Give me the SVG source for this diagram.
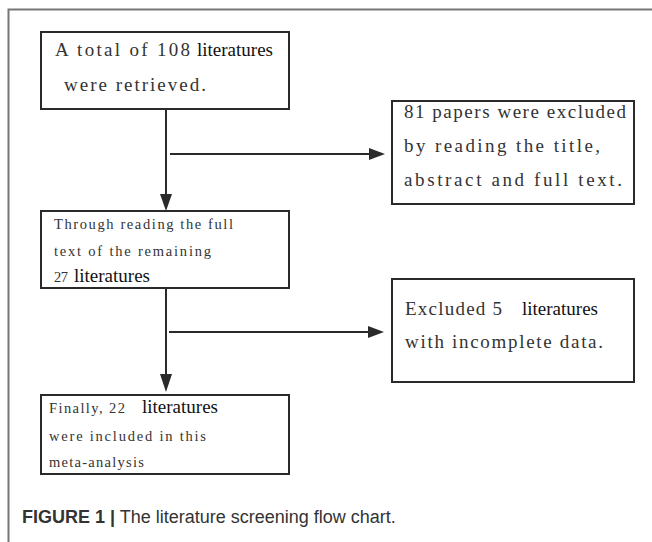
<svg xmlns="http://www.w3.org/2000/svg" width="652" height="542" viewBox="0 0 652 542">
<defs>
<style>
.box{fill:#fff;stroke:#2a2a2a;stroke-width:2}
.m16{font-family:"Liberation Serif",serif;font-size:19px;fill:#333}
.m12{font-family:"Liberation Serif",serif;font-size:14.5px;fill:#333}
.s19{font-family:"Liberation Serif",serif;font-size:19px;fill:#111}
.ln{stroke:#2a2a2a;stroke-width:2;fill:none}
.cap{font-family:"Liberation Sans",Arial,sans-serif;font-size:18px;fill:#333}
</style>
</defs>
<rect x="0" y="0" width="652" height="542" fill="#fff"/>
<path d="M8.5,542 V9.5 H652" stroke="#777" stroke-width="2" fill="none"/>

<g id="connectors">
<path class="ln" d="M166,109 V196"/>
<path d="M160,194 L172,194 L166,211 z" fill="#2a2a2a"/>
<path class="ln" d="M170,154 H372"/>
<path d="M369,148 L385,154 L369,160 z" fill="#2a2a2a"/>
<path class="ln" d="M166,288 V376"/>
<path d="M160,374 L172,374 L166,392 z" fill="#2a2a2a"/>
<path class="ln" d="M169,332 H371"/>
<path d="M368,326 L384,332 L368,338 z" fill="#2a2a2a"/>
</g>

<g id="n1">
<rect class="box" x="41" y="32" width="248" height="77"/>
<text class="m16" x="55" y="56" textLength="135" lengthAdjust="spacing">A total of 108</text>
<text class="s19" x="197" y="56">literatures</text>
<text class="m16" x="64" y="91" textLength="142" lengthAdjust="spacing">were retrieved.</text>
</g>

<g id="n2">
<rect class="box" x="392" y="101" width="242" height="103"/>
<text class="m16" x="404" y="118" textLength="222" lengthAdjust="spacing">81 papers were excluded</text>
<text class="m16" x="404" y="152" textLength="196" lengthAdjust="spacing">by reading the title,</text>
<text class="m16" x="404" y="186" textLength="218" lengthAdjust="spacing">abstract and full text.</text>
</g>

<g id="n3">
<rect class="box" x="41" y="211" width="248" height="77"/>
<text class="m12" x="54" y="229" textLength="179" lengthAdjust="spacing">Through reading the full</text>
<text class="m12" x="54" y="256" textLength="157" lengthAdjust="spacing">text of the remaining</text>
<text class="m12" x="54" y="282" textLength="14" lengthAdjust="spacing">27</text>
<text class="s19" x="74" y="282">literatures</text>
</g>

<g id="n4">
<rect class="box" x="392" y="279" width="242" height="103"/>
<text class="m16" x="405" y="315" textLength="97" lengthAdjust="spacing">Excluded 5</text>
<text class="s19" x="522" y="315">literatures</text>
<text class="m16" x="405" y="348" textLength="198" lengthAdjust="spacing">with incomplete data.</text>
</g>

<g id="n5">
<rect class="box" x="41" y="395" width="248" height="79"/>
<text class="m12" x="49" y="413" textLength="76" lengthAdjust="spacing">Finally, 22</text>
<text class="s19" x="142" y="413">literatures</text>
<text class="m12" x="49" y="441" textLength="157" lengthAdjust="spacing">were included in this</text>
<text class="m12" x="49" y="467" textLength="95" lengthAdjust="spacing">meta-analysis</text>
</g>

<text class="cap" x="22" y="523"><tspan font-weight="bold">FIGURE 1 |</tspan> The literature screening flow chart.</text>
</svg>
